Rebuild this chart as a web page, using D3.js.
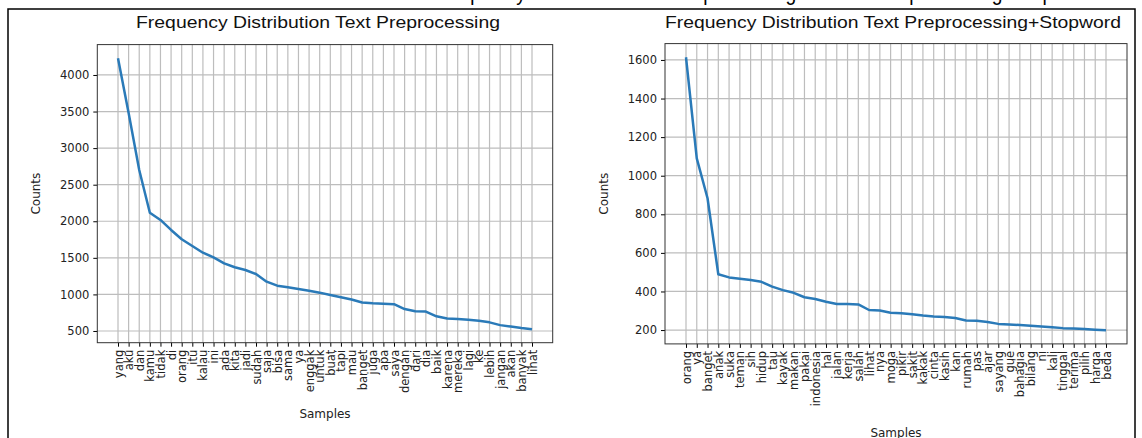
<!DOCTYPE html>
<html><head><meta charset="utf-8">
<script src="https://cdn.jsdelivr.net/npm/d3@7"></script>
<style>body{margin:0;background:#fff}svg{display:block}</style>
</head><body>
<svg id="c" width="1142" height="438"></svg>
<script>
const wordsA = ["yang","aku","dan","kamu","tidak","di","orang","itu","kalau","ini","ada","kita","jadi","sudah","saja","bisa","sama","ya","enggak","untuk","buat","tapi","mau","banget","juga","apa","saya","dengan","dari","dia","baik","karena","mereka","lagi","ke","lebih","jangan","akan","banyak","lihat"];
const countsA = [4230,3480,2700,2117,2018,1881,1754,1662,1570,1507,1425,1371,1334,1279,1174,1119,1097,1074,1051,1024,992,960,930,890,878,872,866,800,770,765,700,672,665,652,640,618,580,560,540,525];
const wordsB = ["orang","ya","banget","anak","suka","teman","sih","hidup","tau","kayak","makan","pakai","indonesia","hal","jalan","kerja","salah","lihat","nya","moga","pikir","sakit","kakak","cinta","kasih","kan","rumah","pas","ajar","sayang","gue","bahagia","bilang","ni","kali","tinggal","terima","pilih","harga","beda"];
const countsB = [1614,1090,883,489,473,466,459,450,425,407,393,370,361,347,335,335,333,304,301,290,287,282,275,270,268,262,250,248,242,232,229,226,222,218,214,210,208,205,202,199];
const ticksA = [500,1000,1500,2000,2500,3000,3500,4000];
const ticksB = [200,400,600,800,1000,1200,1400,1600];
const titleA = "Frequency Distribution Text Preprocessing";
const titleB = "Frequency Distribution Text Preprocessing+Stopword";

const svg = d3.select("#c");
svg.append("rect").attr("x",8).attr("y",9).attr("width",1127).attr("height",440)
  .attr("fill","none").attr("stroke","#000").attr("stroke-width",1.5);
svg.append("text").attr("x",765).attr("y",0).attr("text-anchor","middle")
  .attr("font-family","Liberation Sans, Arial, sans-serif").attr("font-size",22)
  .attr("textLength",660).attr("lengthAdjust","spacingAndGlyphs")
  .text("Frequency Distribution Text Preprocessing dan Text Preprocessing+Stopword");

function panel(frame, words, counts, yticks, title, titleX, titleW, xlabY){
  const g = svg.append("g");
  const n = words.length;
  const mx = (n-1)*0.05;
  const x = d3.scaleLinear().domain([-mx, n-1+mx]).range([frame.x0, frame.x1]);
  const lo = d3.min(counts), hi = d3.max(counts), my=(hi-lo)*0.05;
  const y = d3.scaleLinear().domain([lo-my, hi+my]).range([frame.y1, frame.y0]);
  // grid
  g.append("g").selectAll("line").data(d3.range(n)).join("line")
    .attr("x1",i=>x(i)).attr("x2",i=>x(i)).attr("y1",frame.y0).attr("y2",frame.y1)
    .attr("stroke","#bdbdbd").attr("stroke-width",1.2);
  g.append("g").selectAll("line").data(yticks).join("line")
    .attr("x1",frame.x0).attr("x2",frame.x1).attr("y1",d=>y(d)).attr("y2",d=>y(d))
    .attr("stroke","#bdbdbd").attr("stroke-width",1.2);
  // line
  g.append("path").datum(counts)
    .attr("d", d3.line().x((d,i)=>x(i)).y(d=>y(d)))
    .attr("fill","none").attr("stroke","#2a7ab8").attr("stroke-width",2.5).attr("stroke-linejoin","round");
  // axes
  const yax = g.append("g").attr("transform",`translate(${frame.x0},0)`)
    .call(d3.axisLeft(y).tickValues(yticks).tickSize(4).tickPadding(4).tickFormat(d3.format("d")));
  yax.select(".domain").remove();
  yax.selectAll("text").attr("font-family","DejaVu Sans, sans-serif").attr("font-size",11.5).attr("fill","#222");
  const xax = g.append("g").attr("transform",`translate(0,${frame.y1})`)
    .call(d3.axisBottom(x).tickValues(d3.range(n)).tickSize(4).tickPadding(3).tickFormat(i=>words[i]));
  xax.select(".domain").remove();
  xax.selectAll("text").attr("font-family","DejaVu Sans, sans-serif").attr("font-size",11.5).attr("fill","#222")
    .attr("text-anchor","end").attr("dy","0.35em")
    .attr("transform","rotate(-90)").attr("x",-7).attr("y",0);
  g.append("rect").attr("x",frame.x0).attr("y",frame.y0).attr("width",frame.x1-frame.x0).attr("height",frame.y1-frame.y0)
    .attr("fill","none").attr("stroke","#333").attr("stroke-width",1);
  const cx = (frame.x0+frame.x1)/2;
  g.append("text").attr("x",titleX).attr("y",28).attr("text-anchor","middle")
    .attr("font-family","Liberation Sans, Arial, sans-serif").attr("font-size",16.5).attr("fill","#111")
    .attr("textLength",titleW).attr("lengthAdjust","spacingAndGlyphs").text(title);
  g.append("text").attr("x",cx).attr("y",xlabY).attr("text-anchor","middle")
    .attr("font-family","DejaVu Sans, sans-serif").attr("font-size",12).attr("fill","#222").text("Samples");
  g.append("text").attr("transform",`translate(${frame.x0-57},${(frame.y0+frame.y1)/2}) rotate(-90)`)
    .attr("text-anchor","middle")
    .attr("font-family","DejaVu Sans, sans-serif").attr("font-size",12).attr("fill","#222").text("Counts");
}
panel({x0:97.3,x1:552.7,y0:44.6,y1:342.7}, wordsA, countsA, ticksA, titleA, 318, 364, 418);
panel({x0:665,x1:1127,y0:43.6,y1:343.9}, wordsB, countsB, ticksB, titleB, 893, 456, 437);
</script>
</body></html>
